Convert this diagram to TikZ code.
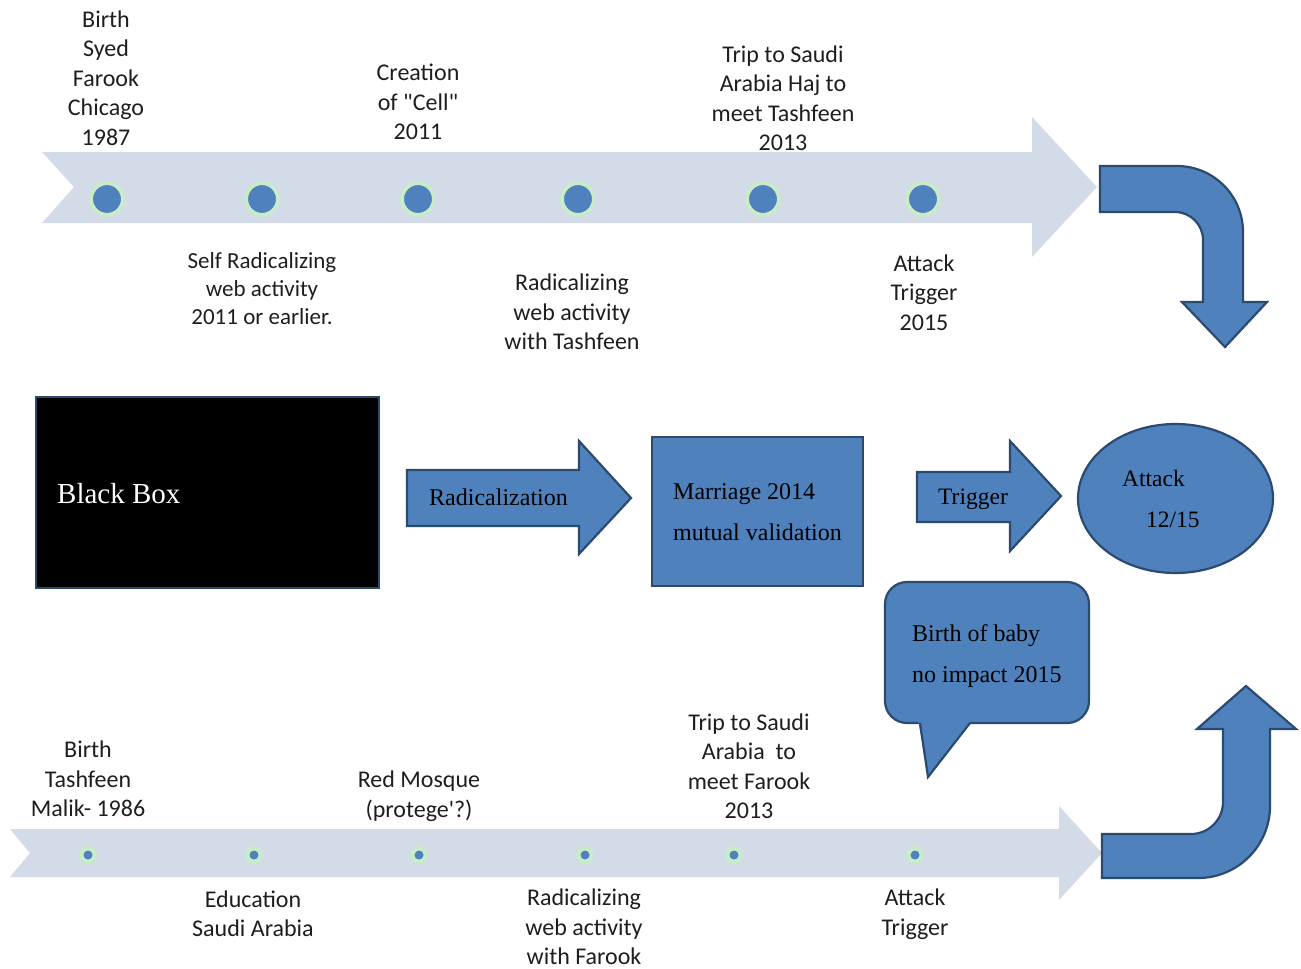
\documentclass[tikz,border=0pt]{standalone}
\usepackage{fontspec}
\setmainfont{Liberation Serif}
\newfontfamily\calfont{Carlito}
\usetikzlibrary{shapes.geometric}
\definecolor{bfill}{HTML}{4F81BD}
\definecolor{bline}{HTML}{2B4A70}
\definecolor{tlcol}{HTML}{D3DAE8}
\definecolor{ringcol}{HTML}{C8EBCB}
\definecolor{txtcol}{RGB}{30,30,30}
\begin{document}
\begin{tikzpicture}[x=1pt,y=-1pt,
 bluebox/.style={fill=bfill,draw=bline,line width=2.2pt,line join=miter},
 lbl/.style={font=\calfont\fontsize{24}{29.5}\selectfont,align=center,inner sep=0pt,text=txtcol},
 ser/.style={font=\rmfamily\fontsize{24}{41}\selectfont,inner sep=0pt,align=left,anchor=west,text=black},
 bigdot/.style={circle,fill=bfill,draw=ringcol,line width=4pt,minimum size=32pt,inner sep=0pt},
 smalldot/.style={circle,fill=bfill,draw=ringcol,line width=4.5pt,minimum size=13.5pt,inner sep=0pt}]
\useasboundingbox (0,0) rectangle (1301,969);

% ---------- top timeline ----------
\fill[tlcol] (42,152) -- (1032,152) -- (1032,117) -- (1097,187) -- (1032,257) -- (1032,223) -- (42,223) -- (74,187) -- cycle;
\foreach \x [count=\i] in {107,262,418,578,763,923}
  \node[bigdot] (t\i) at (\x,199) {};
\node[lbl] (birthS) at (106,78) {Birth\\Syed\\Farook\\Chicago\\1987};
\node[lbl] (cell) at (418,102) {Creation\\of "Cell"\\2011};
\node[lbl] (tripT) at (783,98) {Trip to Saudi\\Arabia Haj to\\meet Tashfeen\\2013};
\node[lbl,font=\calfont\fontsize{23}{28}\selectfont] (self) at (262,288.5) {Self Radicalizing\\web activity\\2011 or earlier.};
\node[lbl] (radT) at (572,312) {Radicalizing\\web activity\\with Tashfeen};
\node[lbl] (trigT) at (924,292.5) {Attack\\Trigger\\2015};

% ---------- top bent arrow ----------
\draw[bluebox] (1100,166) -- (1177,166) arc[start angle=270, end angle=360, radius=66]
  -- (1243,302) -- (1267,302) -- (1225,347) -- (1182,302) -- (1203,302) -- (1203,240)
  arc[start angle=0, end angle=-90, radius=28] -- (1100,212) -- cycle;

% ---------- middle row ----------
\draw[bluebox,fill=black] (36,397) rectangle (379,588);
\node[ser,font=\rmfamily\fontsize{29}{35}\selectfont,text=white] (bb) at (57,494) {Black Box};

\draw[bluebox] (407,470) -- (579,470) -- (579,441) -- (631,498) -- (579,554) -- (579,526) -- (407,526) -- cycle;
\node[ser,font=\rmfamily\fontsize{24}{28}\selectfont] (rad) at (429,497) {Radicalization};

\draw[bluebox] (652,437) rectangle (863,586);
\node[ser] (mar) at (673,512) {Marriage 2014\\mutual validation};

\draw[bluebox] (917,472) -- (1010,472) -- (1010,441) -- (1061,496) -- (1010,551) -- (1010,522) -- (917,522) -- cycle;
\node[ser,font=\rmfamily\fontsize{23.5}{28}\selectfont] (trig) at (938,499) {Trigger};

\node[ellipse,bluebox,minimum width=195pt,minimum height=149pt] (atk) at (1175.5,498.5) {};
\node[ser,font=\rmfamily\fontsize{23.5}{41}\selectfont] (atktxt) at (1122,498.5) {Attack\\\hspace*{24pt}12/15};

% speech bubble
\draw[bluebox,rounded corners=22] (885,582) rectangle (1089,723);
\fill[bfill] (918,719) -- (928,777) -- (972,719) -- cycle;
\draw[bline,line width=2.2pt,line join=miter] (920,723) -- (928,777) -- (970,723);
\node[ser] (baby) at (912,656.5) {Birth of baby\\no impact 2015};

% ---------- bottom timeline ----------
\fill[tlcol] (10,829) -- (1059,829) -- (1059,806) -- (1102,853) -- (1059,900) -- (1059,877) -- (10,877) -- (30,853) -- cycle;
\foreach \x [count=\i] in {88,254,419,585,734,915}
  \node[smalldot] (b\i) at (\x,855) {};
\node[lbl] (birthT) at (88,779) {Birth\\Tashfeen\\Malik- 1986};
\node[lbl] (red) at (419,796) {Red Mosque\\(protege\textquotesingle?)};
\node[lbl] (tripF) at (749,766) {Trip to Saudi\\Arabia~ to\\meet Farook\\2013};
\node[lbl] (edu) at (253,913.5) {Education\\Saudi Arabia};
\node[lbl] (radF) at (584,927) {Radicalizing\\web activity\\with Farook};
\node[lbl] (trigF) at (915,914) {Attack\\Trigger};

% ---------- bottom bent arrow ----------
\draw[bluebox] (1102,834) -- (1191,834) arc[start angle=90, end angle=0, radius=32]
  -- (1223,729) -- (1197,729) -- (1246,686) -- (1296,729) -- (1270,729) -- (1270,806)
  arc[start angle=0, end angle=90, radius=72] -- (1102,878) -- cycle;
\end{tikzpicture}
\end{document}
